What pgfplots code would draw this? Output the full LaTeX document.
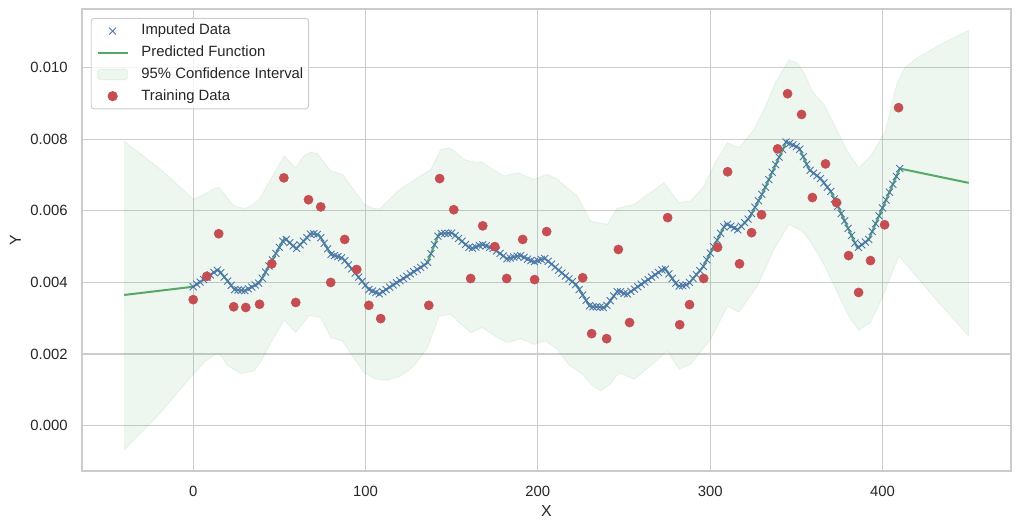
\documentclass[border=0pt]{standalone}
\usepackage{fontspec}
\setmainfont{Liberation Sans}
\usepackage{pgfplots}
\usepackage{pgfplotstable}
\pgfplotsset{compat=1.18}
\definecolor{sblue}{HTML}{4C72B0}
\definecolor{sgreen}{HTML}{55A868}
\definecolor{sred}{HTML}{C44E52}
\definecolor{gridc}{HTML}{CCCCCC}
\definecolor{txt}{HTML}{262626}

\pgfplotsset{
  mymarkleg/.style={legend image code/.code={\draw[mark repeat=2,mark phase=2,##1] plot coordinates {(0cm,0cm) (0.45cm,0cm) (0.9cm,0cm)};}},
  mylineleg/.style={legend image code/.code={\draw[##1] (0cm,0cm) -- (0.9cm,0cm);}},
  myarealeg/.style={legend image code/.code={\draw[##1] (0cm,-0.16cm) rectangle (0.9cm,0.16cm);}},
}

\pgfplotstableread{
x y
0 0.00388
2 0.00395
4 0.00401
6 0.00408
8 0.00414
10 0.00421
12 0.00428
14 0.00434
16 0.00427
18 0.00415
20 0.00404
22 0.00392
24 0.00380
26 0.00379
28 0.00378
30 0.00377
32 0.00382
34 0.00387
36 0.00393
38 0.00398
40 0.00412
42 0.00429
44 0.00446
46 0.00463
48 0.00481
50 0.00498
52 0.00515
54 0.00520
56 0.00511
58 0.00502
60 0.00495
62 0.00505
64 0.00515
66 0.00525
68 0.00535
70 0.00536
72 0.00534
74 0.00525
76 0.00509
78 0.00494
80 0.00478
82 0.00475
84 0.00472
86 0.00469
88 0.00461
90 0.00449
92 0.00438
94 0.00426
96 0.00415
98 0.00403
100 0.00392
102 0.00380
104 0.00376
106 0.00372
108 0.00368
110 0.00374
112 0.00380
114 0.00387
116 0.00393
118 0.00399
120 0.00405
122 0.00411
124 0.00417
126 0.00424
128 0.00430
130 0.00436
132 0.00442
134 0.00448
136 0.00456
138 0.00480
140 0.00505
142 0.00529
144 0.00536
146 0.00537
148 0.00537
150 0.00538
152 0.00531
154 0.00523
156 0.00515
158 0.00506
160 0.00498
162 0.00496
164 0.00499
166 0.00503
168 0.00505
170 0.00502
172 0.00498
174 0.00495
176 0.00488
178 0.00481
180 0.00474
182 0.00466
184 0.00468
186 0.00471
188 0.00473
190 0.00475
192 0.00470
194 0.00465
196 0.00461
198 0.00458
200 0.00461
202 0.00464
204 0.00467
206 0.00459
208 0.00451
210 0.00443
212 0.00434
214 0.00426
216 0.00418
218 0.00410
220 0.00402
222 0.00394
224 0.00380
226 0.00365
228 0.00350
230 0.00335
232 0.00332
234 0.00332
236 0.00331
238 0.00330
240 0.00336
242 0.00349
244 0.00362
246 0.00374
248 0.00374
250 0.00369
252 0.00368
254 0.00375
256 0.00381
258 0.00388
260 0.00395
262 0.00401
264 0.00408
266 0.00415
268 0.00421
270 0.00428
272 0.00435
274 0.00437
276 0.00424
278 0.00411
280 0.00398
282 0.00390
284 0.00391
286 0.00393
288 0.00400
290 0.00411
292 0.00422
294 0.00433
296 0.00445
298 0.00463
300 0.00482
302 0.00500
304 0.00518
306 0.00537
308 0.00555
310 0.00562
312 0.00557
314 0.00552
316 0.00547
318 0.00557
320 0.00567
322 0.00577
324 0.00592
326 0.00610
328 0.00628
330 0.00646
332 0.00666
334 0.00687
336 0.00708
338 0.00729
340 0.00750
342 0.00771
344 0.00792
346 0.00788
348 0.00784
350 0.00779
352 0.00772
354 0.00751
356 0.00730
358 0.00713
360 0.00705
362 0.00698
364 0.00690
366 0.00678
368 0.00666
370 0.00654
372 0.00633
374 0.00613
376 0.00592
378 0.00572
380 0.00551
382 0.00531
384 0.00510
386 0.00498
388 0.00505
390 0.00513
392 0.00520
394 0.00542
396 0.00564
398 0.00586
400 0.00608
402 0.00630
404 0.00652
406 0.00674
408 0.00696
410 0.00718
}\imputed

\pgfplotstableread{
x y
-40 0.00365
0 0.00388
14.5 0.00436
24 0.00380
30 0.00377
38.5 0.00399
53 0.00524
59.7 0.00494
68.4 0.00537
73 0.00533
80 0.00478
86.7 0.00468
102 0.00380
108 0.00368
135.8 0.00454
142.6 0.00536
150.3 0.00538
161 0.00494
167.6 0.00506
174.4 0.00494
182 0.00466
189.8 0.00475
197.5 0.00457
204 0.00467
222.5 0.00392
230.2 0.00333
239 0.00330
246.6 0.00378
251.4 0.00366
273.6 0.00440
281.3 0.00389
287 0.00394
295.8 0.00443
309 0.00564
316 0.00547
322.7 0.00580
330.5 0.00650
344 0.00792
351.6 0.00776
357.4 0.00715
364 0.00690
370 0.00654
385.4 0.00496
392 0.00520
410 0.00718
450 0.00678
}\predline

\pgfplotstableread{
x y
0 0.00352
7.9 0.00417
14.8 0.00536
23.5 0.00332
30.5 0.00330
38.5 0.00339
45.6 0.00452
52.6 0.00692
59.5 0.00344
66.9 0.00631
74.0 0.00611
79.8 0.00400
87.9 0.00520
94.9 0.00436
101.9 0.00336
108.8 0.00299
136.7 0.00336
143.0 0.00690
151.2 0.00603
161.0 0.00411
168.0 0.00558
175.0 0.00500
181.9 0.00411
191.2 0.00520
198.1 0.00408
205.1 0.00542
226.0 0.00413
231.2 0.00257
239.9 0.00243
246.7 0.00492
253.2 0.00288
275.3 0.00581
282.3 0.00282
288.0 0.00338
296.2 0.00411
304.3 0.00498
310.1 0.00709
317.0 0.00452
324.0 0.00539
329.8 0.00589
339.1 0.00773
344.9 0.00927
353.0 0.00869
359.3 0.00637
366.9 0.00731
373.3 0.00623
380.3 0.00475
386.1 0.00372
393.0 0.00461
401.2 0.00561
409.3 0.00888
}\training

\begin{document}
\begin{tikzpicture}
\useasboundingbox (-69.6pt,-49.4pt) rectangle (797.4pt,399.4pt);
\begin{axis}[
  at={(0pt,0pt)}, anchor=south west,
  scale only axis, width=788pt, height=391.6pt,
  xmin=-64.5, xmax=474.5, ymin=-0.00126, ymax=0.01163,
  xtick={0,100,200,300,400}, xticklabels={0,100,200,300,400},
  ytick={0,0.002,0.004,0.006,0.008,0.01},
  yticklabels={0.000,0.002,0.004,0.006,0.008,0.010},
  scaled y ticks=false, scaled x ticks=false,
  grid=major, major grid style={draw=gridc, line width=1pt},
  axis line style={draw=gridc, line width=1.3pt},
  tick style={draw=none}, major tick length=0pt,
  tick label style={font=\fontsize{12.6pt}{15pt}\selectfont, text=txt},
  xticklabel style={anchor=north, inner sep=0pt, yshift=-12.7pt},
  yticklabel style={anchor=east, inner sep=0pt, xshift=-12.1pt},
  xlabel={X}, ylabel={Y},
  label style={font=\fontsize{13.5pt}{16pt}\selectfont, text=txt},
  xlabel style={at={(axis description cs:0.5,-0.0873)}, anchor=center},
  ylabel style={at={(axis description cs:-0.0718,0.5)}, anchor=center},
  legend cell align=left,
  legend style={at={(0.0094,0.981)}, anchor=north west, draw=gridc, line width=0.8pt,
    rounded corners=2.5pt, fill=white, fill opacity=0.8, draw opacity=1, text opacity=1,
    text=txt, font=\fontsize{12.6pt}{15pt}\selectfont,
    inner xsep=4.5pt, inner ysep=5pt, row sep=6.9pt, column sep=10.8pt,
    nodes={inner sep=0pt, text height=9pt, text depth=2.5pt}},
]
\addplot[only marks, mark=x, mark size=4.2pt, sblue, line width=0.75pt, mymarkleg]
  table {\imputed};
\addplot[sgreen, line width=1.7pt, no marks, mylineleg]
  table {\predline};
\addplot[fill=sgreen, fill opacity=0.1, draw=sgreen, draw opacity=0.1, line width=0.8pt, myarealeg]
  coordinates {
(-40,0.00794) (-30,0.00757) (-18.8,0.00715) (-10,0.00677) (0,0.00632) (6.4,0.00646) (12.2,0.00662) (15,0.00665) (19,0.00642) (22.8,0.00618) (26,0.00610) (30.5,0.00607) (34,0.00615) (38.3,0.00632) (45,0.00688) (52.8,0.00753) (59.5,0.00720) (64,0.00752) (68.2,0.00764) (72,0.00760) (76,0.00735) (79.8,0.00711) (86.6,0.00702) (93,0.00660) (99.2,0.00618) (104,0.00608) (108,0.00604) (110.8,0.00618) (120,0.00660) (130,0.00692) (137.8,0.00715) (143.6,0.00771) (148.5,0.00776) (152,0.00765) (157.2,0.00743) (165,0.00734) (167.6,0.00737) (174,0.00715) (180.4,0.00697) (188,0.00706) (197.8,0.00688) (205.5,0.00702) (211.3,0.00688) (216,0.00668) (223,0.00641) (230.6,0.00571) (240.3,0.00562) (246,0.00607) (255.8,0.00618) (265,0.00650) (273.2,0.00678) (281.9,0.00623) (288.6,0.00627) (296.4,0.00669) (303,0.00735) (310,0.00790) (316.7,0.00776) (325.4,0.00827) (331,0.00880) (338,0.00960) (345.7,0.01022) (350.5,0.01013) (355,0.00980) (359.2,0.00934) (366,0.00897) (372,0.00840) (379.5,0.00767) (386.3,0.00720) (393,0.00753) (401.7,0.00822) (405,0.00890) (408.5,0.00957) (413,0.01000) (420,0.01027) (435,0.01068) (450,0.01104)
(450,0.00250) (430,0.00358) (420,0.00415) (409.5,0.00474) (400,0.00360) (393,0.00288) (386.3,0.00267) (381,0.00300) (375,0.00360) (367,0.00441) (362,0.00483) (358,0.00515) (353.4,0.00543) (345.7,0.00562) (337,0.00492) (327.3,0.00390) (316.7,0.00317) (310,0.00334) (300.2,0.00241) (288.6,0.00172) (282,0.00158) (275,0.00209) (265,0.00165) (255.8,0.00130) (247,0.00148) (242,0.00115) (236.4,0.00097) (231,0.00115) (225.8,0.00144) (218,0.00170) (211.3,0.00213) (204.5,0.00237) (197.8,0.00227) (190,0.00243) (182.3,0.00232) (176.5,0.00246) (167.8,0.00274) (161,0.00260) (155,0.00285) (149.4,0.00311) (142.7,0.00306) (136,0.00218) (131,0.00185) (126.2,0.00158) (120,0.00138) (112.7,0.00127) (106,0.00130) (99.2,0.00148) (93,0.00190) (86.6,0.00237) (79.8,0.00246) (74,0.00302) (67.3,0.00308) (59.5,0.00260) (52.8,0.00295) (45,0.00232) (40,0.00185) (35.4,0.00153) (27.6,0.00146) (20,0.00167) (17,0.00190) (14,0.00202) (7.3,0.00181) (0,0.00144) (-10,0.00087) (-18.8,0.00037) (-30,-0.00018) (-40,-0.00067)
  } -- cycle;
\addplot[only marks, mark=*, mark size=3.9pt, sred, fill opacity=1, mark options={draw=sred, fill=sred}, mymarkleg]
  table {\training};
\legend{Imputed Data, Predicted Function, 95\% Confidence Interval, Training Data}
\end{axis}
\end{tikzpicture}
\end{document}
